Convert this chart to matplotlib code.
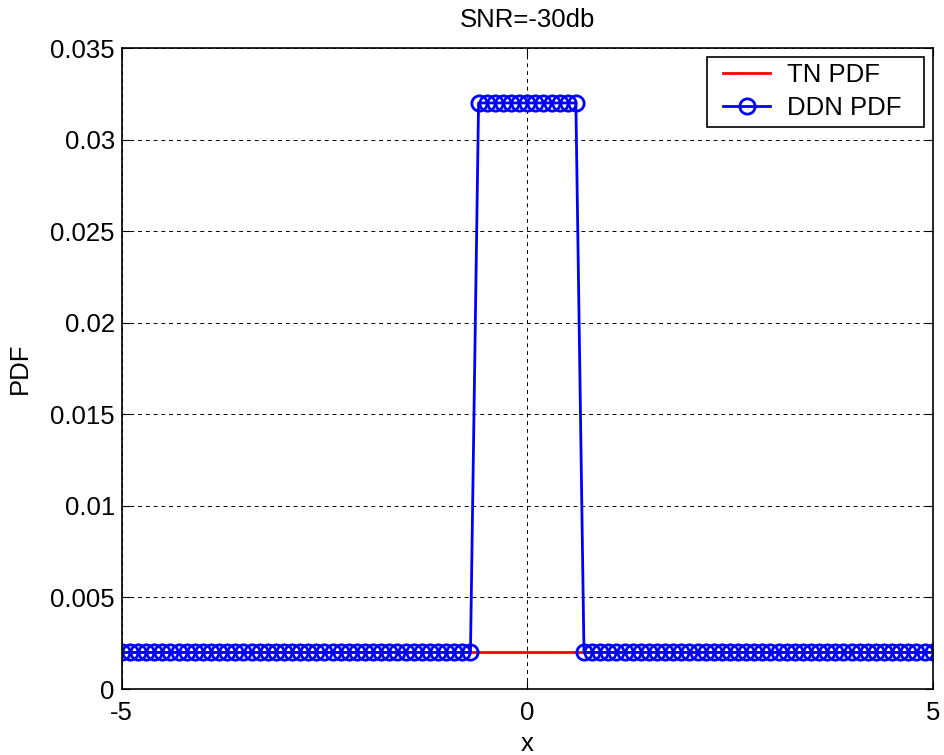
import numpy as np
import matplotlib
matplotlib.use("Agg")
import matplotlib.pyplot as plt
from matplotlib.patches import Rectangle

plt.rcParams['font.family'] = ['Liberation Sans', 'DejaVu Sans']

x_tn = [-5.0, 5.0]
y_tn = [0.002, 0.002]

x_ddn = [round(-5.0 + 0.1 * i, 1) for i in range(101)]
low_level = 0.002
high_level = 0.032
y_ddn = [high_level if abs(v) <= 0.6 + 1e-9 else low_level for v in x_ddn]

xticks = [-5, 0, 5]
yticks = [0, 0.005, 0.01, 0.015, 0.02, 0.025, 0.03, 0.035]
yticklabels = ['0', '0.005', '0.01', '0.015', '0.02', '0.025', '0.03', '0.035']

FS = 18.5

fig = plt.figure(figsize=(9.44, 7.55), dpi=100)
ax = fig.add_axes([0.129, 0.0874, 0.859, 0.849])

ax.plot(x_tn, y_tn, color='red', lw=2, label='TN PDF')
ax.plot(x_ddn, y_ddn, color='blue', lw=2, marker='o', markersize=11,
        markerfacecolor='none', markeredgewidth=2, label='DDN PDF')

ax.set_xlim(-5, 5)
ax.set_ylim(0, 0.035)
ax.set_xticks(xticks)
ax.set_xticklabels([str(t) for t in xticks])
ax.set_yticks(yticks)
ax.set_yticklabels(yticklabels)
ax.tick_params(direction='in', top=True, right=True, labelsize=FS, length=6)
ax.tick_params(axis='x', pad=8.5)
ax.tick_params(axis='y', pad=5)
ax.grid(True, color='black', linestyle=(0, (4, 4)), linewidth=0.7)
for s in ax.spines.values():
    s.set_linewidth(1.2)

ax.set_title('SNR=-30db', fontsize=FS, pad=15)
ax.set_xlabel('x', fontsize=FS, labelpad=5)
ax.set_ylabel('PDF', fontsize=FS, labelpad=13)

# legend frame drawn separately to match the box proportions
frame = Rectangle((0.722, 0.877), 0.267, 0.109, transform=ax.transAxes,
                  facecolor='white', edgecolor='black', linewidth=1.2,
                  zorder=4.5, clip_on=False)
ax.add_patch(frame)
leg = ax.legend(loc='upper left', bbox_to_anchor=(0.734, 0.9866), fontsize=FS,
                frameon=False, handlelength=1.83, handletextpad=0.66,
                borderaxespad=0.0, borderpad=0.25, labelspacing=0.36)
leg.set_zorder(5)

fig.savefig('out.png', dpi=100)
